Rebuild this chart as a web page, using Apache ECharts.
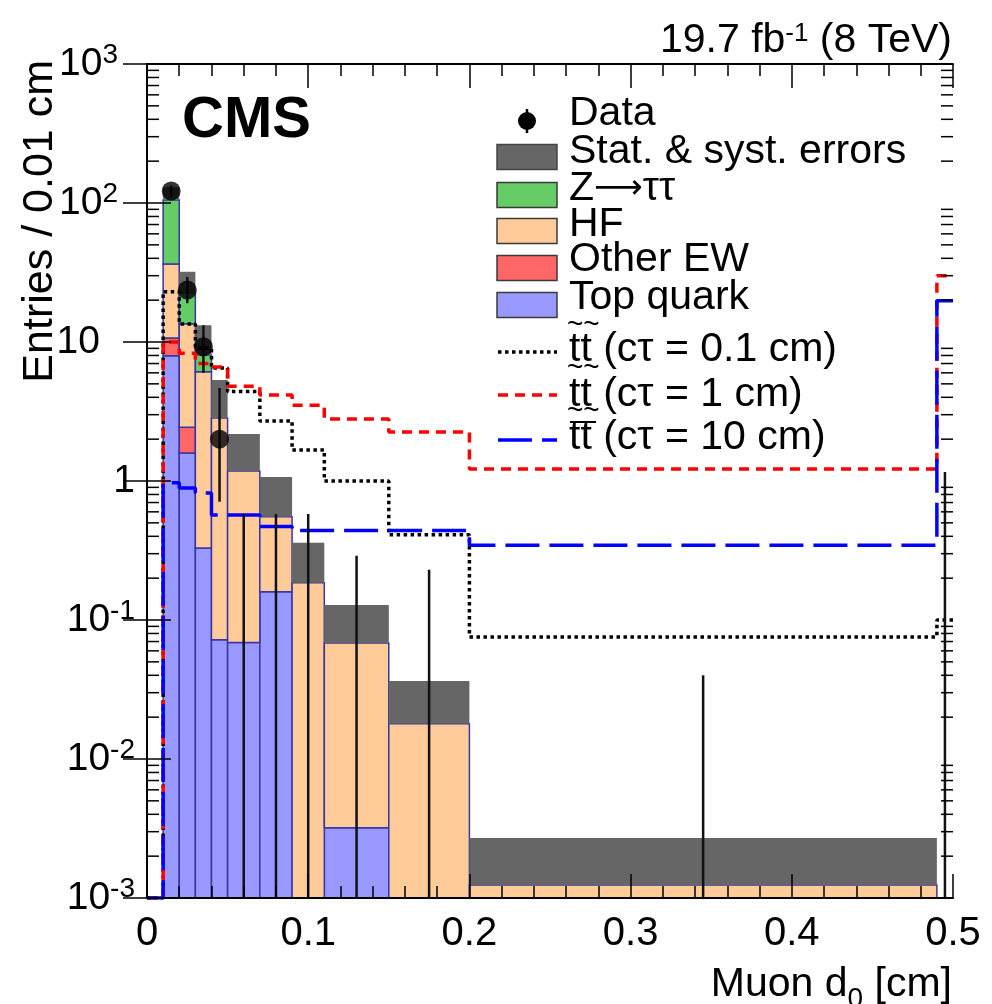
<!DOCTYPE html>
<html>
<head>
<meta charset="utf-8">
<script src="https://cdn.jsdelivr.net/npm/echarts@6/dist/echarts.min.js"></script>
<style>
html, body { margin: 0; padding: 0; background: #fff; }
#chart { width: 992px; height: 1004px; }
</style>
</head>
<body>
<div id="chart"></div>
<script>
// bin edges [cm]; first bin (0-0.01) is empty, last bin (0.49-0.5) is the overflow
const edges = [0, 0.01, 0.02, 0.03, 0.04, 0.05, 0.07, 0.09, 0.11, 0.15, 0.2, 0.49, 0.5];

// stacked backgrounds, entries / 0.01 cm (bottom to top)
const topQuark     = [0, 7.96, 1.59, 0.33, 0.072, 0.069, 0.16, 0, 0.0032, 0, 0, 0];
const otherEW      = [0, 2.74, 0.85, 0, 0, 0, 0, 0, 0, 0, 0, 0];
const heavyFlavour = [0, 25.7, 11.1, 5.77, 2.77, 1.11, 0.393, 0.185, 0.065, 0.0179, 0.00124, 0];
const zTauTau      = [0, 68.6, 9.0, 1.96, 0, 0, 0, 0, 0, 0, 0, 0];
// upper edge of the stat. & syst. band
const bandHigh     = [0, 130, 32, 13.2, 5.33, 2.18, 1.07, 0.36, 0.128, 0.0364, 0.0027, 0];

// data with asymmetric errors
const dataValue = [null, 122, 23.7, 9.25, 2.0, 0, 0, 0, 0, 0, 0, 0];
const dataLow   = [null, 111, 19.0, 6.0, 0.71, 0, 0, 0, 0, 0, 0, 0];
const dataHigh  = [null, 133, 29.4, 13.2, 4.67, 0.58, 0.58, 0.58, 0.29, 0.23, 0.04, 1.16];

// signal models
const stop01 = [0, 23.0, 13.5, 9.0, 6.5, 4.4, 2.7, 1.67, 1.0, 0.41, 0.0755, 0.1];
const stop1  = [0, 10.0, 8.3, 7.0, 6.6, 4.8, 4.15, 3.5, 2.79, 2.25, 1.22, 30];
const stop10 = [0, 0.97, 0.89, 0.82, 0.57, 0.57, 0.47, 0.44, 0.44, 0.44, 0.345, 19.8];

const YMIN = 1e-3, YMAX = 1e3;
const FONT = '"Liberation Sans", Arial, Helvetica, sans-serif';
const OUTLINE = '#3636a8';

const chart = echarts.init(document.getElementById('chart'));

// filled bin between two y values
function binRect(fill, stroke) {
  return function (params, api) {
    const p0 = api.coord([api.value(0), api.value(2)]);
    const p1 = api.coord([api.value(1), api.value(3)]);
    return {
      type: 'rect',
      shape: { x: p0[0], y: p1[1], width: p1[0] - p0[0], height: p0[1] - p1[1] },
      style: { fill: fill, stroke: stroke || null, lineWidth: stroke ? 1.5 : 0 }
    };
  };
}

// build the stack
const stackDefs = [
  { name: 'Top quark', vals: topQuark, color: '#9999ff' },
  { name: 'Other EW', vals: otherEW, color: '#ff6666' },
  { name: 'HF', vals: heavyFlavour, color: '#ffcc99' },
  { name: 'Z', vals: zTauTau, color: '#66cc66' }
];
const total = topQuark.map(() => 0);
const stackSeries = [];
stackDefs.forEach(function (def) {
  const items = [];
  def.vals.forEach(function (v, i) {
    if (v > 0) items.push([edges[i], edges[i + 1], Math.max(total[i], YMIN), total[i] + v]);
    total[i] += v;
  });
  stackSeries.push({
    type: 'custom', name: def.name, renderItem: binRect(def.color, OUTLINE),
    data: items, encode: { x: [0, 1], y: [2, 3] }, z: 2, silent: true
  });
});

const bandItems = [];
bandHigh.forEach(function (h, i) {
  if (h > total[i]) bandItems.push([edges[i], edges[i + 1], Math.max(total[i], YMIN), h]);
});

function stepData(vals) {
  const pts = vals.map(function (v, i) { return [edges[i], Math.max(v, YMIN)]; });
  pts.push([edges[edges.length - 1], Math.max(vals[vals.length - 1], YMIN)]);
  return pts;
}

const errItems = [];
const markerItems = [];
dataValue.forEach(function (v, i) {
  if (v === null) return;
  const xc = (edges[i] + edges[i + 1]) / 2;
  errItems.push([xc, Math.max(dataLow[i], YMIN), dataHigh[i]]);
  if (v > 0) markerItems.push([xc, v]);
});

// minor log ticks 2..9 x 10^k
const minorTickValues = [];
for (let e = -3; e < 3; e++) {
  for (let m = 2; m <= 9; m++) minorTickValues.push([0, m * Math.pow(10, e)]);
}

function yLabel(v) {
  const e = Math.round(Math.log10(v));
  if (e === 0) return '1';
  if (e === 1) return '{ten|10}';
  if (e > 1) return '10{supPad|' + e + '}';
  return '10{sup|' + e + '}';
}

const tickStyle = { color: '#000', width: 1.5 };
const xAxisBase = {
  type: 'value', min: 0, max: 0.5, interval: 0.1, z: 10,
  axisLine: { show: true, lineStyle: { color: '#000', width: 2 } },
  axisTick: { show: true, inside: true, length: 24, lineStyle: tickStyle },
  minorTick: { show: true, splitNumber: 5, length: 12, lineStyle: tickStyle },
  splitLine: { show: false }
};
const yAxisBase = {
  type: 'log', logBase: 10, min: YMIN, max: YMAX, splitNumber: 6, z: 10,
  axisLine: { show: true, lineStyle: { color: '#000', width: 2 } },
  axisTick: { show: true, inside: true, length: 24, lineStyle: tickStyle },
  splitLine: { show: false }
};

const LEG_FONT = '41px ' + FONT;
const legendRows = [
  { label: 'Stat. & syst. errors', color: '#666666', y: 157, ty: 152 },
  { label: 'Z{arr|\u27f6}\u03c4\u03c4', color: '#66cc66', y: 195, ty: 189 },
  { label: 'HF', color: '#ffcc99', y: 231, ty: 225 },
  { label: 'Other EW', color: '#ff6666', y: 268, ty: 260 },
  { label: 'Top quark', color: '#9999ff', y: 305, ty: 298 }
];
const lineRows = [
  { label: 'tt (c\u03c4 = 0.1 cm)', color: '#000', dash: [3.5, 3.5], y: 352, ty: 350 },
  { label: 'tt (c\u03c4 = 1 cm)', color: '#ff0000', dash: [10, 7], y: 395, ty: 395 },
  { label: 'tt (c\u03c4 = 10 cm)', color: '#0000ff', dash: [34, 10], y: 440, ty: 438 }
];

const graphics = [];
graphics.push({ type: 'circle', shape: { cx: 527, cy: 121, r: 9 }, style: { fill: '#000' } });
graphics.push({ type: 'line', shape: { x1: 527, y1: 109, x2: 527, y2: 133 }, style: { stroke: '#000', lineWidth: 2.5 } });
graphics.push({ type: 'text', x: 569, y: 114, style: { text: 'Data', font: LEG_FONT, fill: '#000', textVerticalAlign: 'middle' } });
legendRows.forEach(function (r) {
  graphics.push({ type: 'rect', shape: { x: 497, y: r.y - 12.5, width: 60, height: 25 },
    style: { fill: r.color, stroke: r.color === '#666666' ? '#444' : '#3a3a3a', lineWidth: 1.5 } });
  graphics.push({ type: 'text', x: 569, y: r.ty, style: { text: r.label, font: LEG_FONT, fill: '#000', textVerticalAlign: 'middle',
    rich: { arr: { fontSize: 34, fontFamily: '"DejaVu Sans", sans-serif', fill: '#000' } } } });
});
lineRows.forEach(function (r) {
  graphics.push({ type: 'line', shape: { x1: 498, y1: r.y, x2: 557, y2: r.y },
    style: { stroke: r.color, lineWidth: 3.5, lineDash: r.dash } });
  graphics.push({ type: 'text', x: 569, y: r.ty, style: { text: r.label, font: LEG_FONT, fill: '#000', textVerticalAlign: 'middle' } });
});
// tilde marks of the stop labels
[325, 368, 411].forEach(function (ty) {
  graphics.push({ type: 'text', x: 567, y: ty, style: { text: '~~', font: '28px ' + FONT, fill: '#000', textVerticalAlign: 'middle' } });
});
graphics.push({ type: 'line', shape: { x1: 570, y1: 422, x2: 596, y2: 422 }, style: { stroke: '#000', lineWidth: 2 } });

graphics.push({ type: 'text', x: 182, y: 121, style: { text: 'CMS', font: 'bold 58px ' + FONT, fill: '#000', textVerticalAlign: 'middle' } });
graphics.push({ type: 'text', x: 952, y: 41, style: {
  text: '19.7 fb{sup|-1} (8 TeV)', font: '41px ' + FONT, fill: '#000', textAlign: 'right', textVerticalAlign: 'middle',
  rich: { sup: { fontSize: 26, fontFamily: FONT, lineHeight: 26, verticalAlign: 'top', fill: '#000' } } } });
graphics.push({ type: 'text', x: 952, y: 985, style: {
  text: 'Muon d{sub|0} [cm]', font: '41px ' + FONT, fill: '#000', textAlign: 'right', textVerticalAlign: 'middle', lineHeight: 56,
  rich: { sub: { fontSize: 28, fontFamily: FONT, lineHeight: 28, verticalAlign: 'bottom', fill: '#000' } } } });
graphics.push({ type: 'text', x: 40, y: 60, rotation: Math.PI / 2, style: {
  text: 'Entries / 0.01 cm', font: '43px ' + FONT, fill: '#000', textAlign: 'right', textVerticalAlign: 'middle' } });

const option = {
  animation: false,
  backgroundColor: '#fff',
  grid: { left: 147, right: 39, top: 64, bottom: 106 },
  xAxis: [
    Object.assign({}, xAxisBase, { position: 'bottom',
      axisLabel: { show: true, margin: 16, fontSize: 40, fontFamily: FONT, color: '#000' } }),
    Object.assign({}, xAxisBase, { position: 'top', axisLabel: { show: false } })
  ],
  yAxis: [
    Object.assign({}, yAxisBase, { position: 'left',
      axisLabel: { show: true, margin: 12, fontSize: 39, fontFamily: FONT, color: '#000', lineHeight: 46,
        formatter: yLabel,
        rich: {
          sup: { fontSize: 28, fontFamily: FONT, lineHeight: 28, verticalAlign: 'top', color: '#000' },
          supPad: { fontSize: 28, fontFamily: FONT, lineHeight: 28, verticalAlign: 'top', color: '#000', padding: [0, 17, 0, 0] },
          ten: { fontSize: 39, fontFamily: FONT, lineHeight: 46, color: '#000', padding: [0, 35, 0, 0] }
        } } }),
    Object.assign({}, yAxisBase, { position: 'right', axisLabel: { show: false } })
  ],
  graphic: graphics,
  series: stackSeries.concat([
    {
      type: 'custom', name: 'band', renderItem: binRect('#666666', null),
      data: bandItems, encode: { x: [0, 1], y: [2, 3] }, z: 3, silent: true
    },
    {
      type: 'line', name: 'stop01', step: 'end', data: stepData(stop01), symbol: 'none', z: 5,
      lineStyle: { color: '#000', width: 3.5, type: [3.5, 3.5] }, silent: true
    },
    {
      type: 'line', name: 'stop1', step: 'end', data: stepData(stop1), symbol: 'none', z: 5,
      lineStyle: { color: '#ff0000', width: 3.5, type: [10, 7] }, silent: true
    },
    {
      type: 'line', name: 'stop10', step: 'end', data: stepData(stop10), symbol: 'none', z: 5,
      lineStyle: { color: '#0000ff', width: 3.5, type: [34, 10] }, silent: true
    },
    {
      type: 'custom', name: 'dataErr', data: errItems, encode: { x: 0, y: [1, 2] }, z: 6, silent: true,
      renderItem: function (params, api) {
        const a = api.coord([api.value(0), api.value(1)]);
        const b = api.coord([api.value(0), api.value(2)]);
        return { type: 'line', shape: { x1: a[0], y1: a[1], x2: b[0], y2: b[1] }, style: { stroke: '#111', lineWidth: 2.5 } };
      }
    },
    {
      type: 'scatter', name: 'Data', data: markerItems, symbol: 'circle', symbolSize: 19, z: 7,
      itemStyle: { color: '#000' }, silent: true
    },
    {
      type: 'custom', name: 'minorTicks', data: minorTickValues, encode: { x: 0, y: 1 }, z: 11, silent: true,
      renderItem: function (params, api) {
        const pl = api.coord([0, api.value(1)]);
        const pr = api.coord([0.5, api.value(1)]);
        return { type: 'group', children: [
          { type: 'line', shape: { x1: pl[0], y1: pl[1], x2: pl[0] + 12, y2: pl[1] }, style: { stroke: '#000', lineWidth: 1.5 } },
          { type: 'line', shape: { x1: pr[0] - 12, y1: pr[1], x2: pr[0], y2: pr[1] }, style: { stroke: '#000', lineWidth: 1.5 } }
        ] };
      }
    }
  ])
};

chart.setOption(option);
</script>
</body>
</html>
